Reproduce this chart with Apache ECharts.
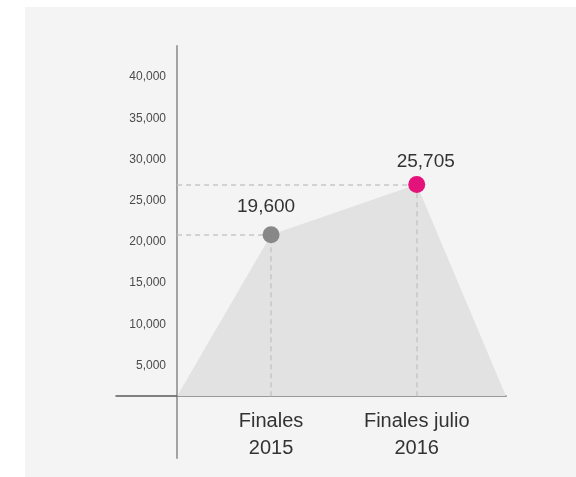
<!DOCTYPE html>
<html>
<head>
<meta charset="utf-8">
<script src="https://cdn.jsdelivr.net/npm/echarts@6/dist/echarts.min.js"></script>
<style>
html,body{margin:0;padding:0;background:#fff;}
#c{width:576px;height:477px;}
</style>
</head>
<body>
<div id="c"></div>
<script>
// Data
const categories = ['', 'Finales\n2015', 'Finales julio\n2016', ''];
const xPositions = [0, 1, 2.55, 3.5];
const areaValues = [0, 19600, 25705, 0];
const highlightIdx = [1, 2];
const highlightColors = ['#888888', '#e4127b'];
const yTicks = [5000, 10000, 15000, 20000, 25000, 30000, 35000, 40000];

const fmt = v => v.toLocaleString('en-US');
const FONT = 'Liberation Sans';

const areaData = xPositions.map((x, i) => [x, areaValues[i]]);
const pointData = highlightIdx.map((i, k) => ({
  value: [xPositions[i], areaValues[i]],
  itemStyle: { color: highlightColors[k], opacity: 1 },
  label: k === 0 ? { offset: [-5, 0], distance: 10 } : { offset: [9, 0], distance: 5 }
}));
const guideLines = [];
highlightIdx.forEach(i => {
  guideLines.push([{ coord: [0, areaValues[i]] }, { coord: [xPositions[i], areaValues[i]] }]);
  guideLines.push([{ coord: [xPositions[i], 0] }, { coord: [xPositions[i], areaValues[i]] }]);
});

const chart = echarts.init(document.getElementById('c'), null, { renderer: 'canvas' });
chart.setOption({
  backgroundColor: '#ffffff',
  animation: false,
  graphic: [{
    type: 'rect', z: -10, silent: true,
    shape: { x: 25, y: 7, width: 551, height: 470 },
    style: { fill: '#f4f4f4' }
  }],
  grid: { left: 116, right: 70, top: 46, bottom: 19, containLabel: false, outerBoundsMode: 'none' },
  xAxis: {
    type: 'value', min: -0.65, max: 3.5,
    splitLine: { show: false },
    axisTick: { show: false },
    axisLine: { show: true, onZero: true, lineStyle: { color: '#5a5a5a', width: 1.5 } },
    axisLabel: {
      customValues: highlightIdx.map(i => xPositions[i]),
      formatter: v => { const i = xPositions.indexOf(v); return i >= 0 ? categories[i] : ''; },
      fontFamily: FONT, fontSize: 20, lineHeight: 27, color: '#333', margin: -50
    }
  },
  yAxis: {
    type: 'value', min: -7500, max: 42500, interval: 2500,
    splitLine: { show: false },
    axisTick: { show: false },
    axisLine: { show: true, onZero: true, lineStyle: { color: '#a3a3a3', width: 2 } },
    axisLabel: {
      formatter: v => yTicks.indexOf(v) >= 0 ? fmt(v) : '',
      fontFamily: FONT, fontSize: 12, color: '#4a4a4a', margin: -50,
      verticalAlign: 'top', lineHeight: 21
    }
  },
  series: [
    {
      type: 'line', data: areaData, symbol: 'none', z: 1,
      lineStyle: { width: 0, opacity: 0 },
      areaStyle: { color: '#e2e2e2', opacity: 1 }
    },
    {
      type: 'scatter', data: pointData, symbolSize: 17, z: 5,
      label: {
        show: true, position: 'top',
        formatter: p => fmt(p.value[1]),
        fontFamily: FONT, fontSize: 19, color: '#333'
      },
      markLine: {
        silent: true, symbol: 'none', z: 2,
        label: { show: false },
        lineStyle: { type: [5, 4], color: '#c6c6c6', width: 1.5 },
        data: guideLines
      }
    }
  ]
});
</script>
</body>
</html>
